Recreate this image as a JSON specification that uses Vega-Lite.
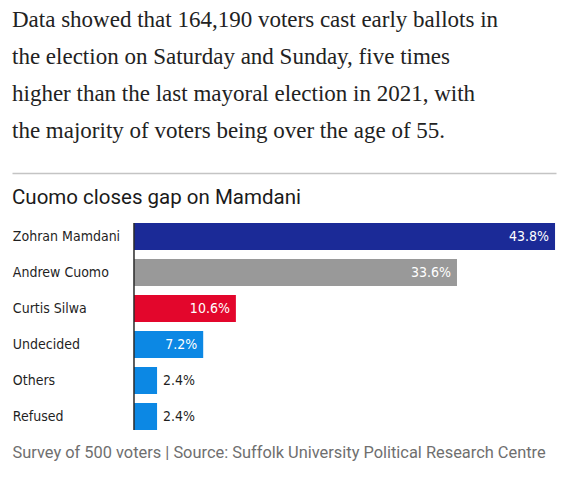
{
  "$schema": "https://vega.github.io/schema/vega-lite/v6.json",
  "background": "white",
  "padding": {"left": 12, "right": 12, "top": 0, "bottom": 0},
  "spacing": 14,
  "config": {"view": {"stroke": null}},
  "vconcat": [
    {
      "width": 544,
      "height": 147,
      "data": {
        "values": [
          {"line": 1, "text": "Data showed that 164,190 voters cast early ballots in"},
          {"line": 2, "text": "the election on Saturday and Sunday, five times"},
          {"line": 3, "text": "higher than the last mayoral election in 2021, with"},
          {"line": 4, "text": "the majority of voters being over the age of 55."}
        ]
      },
      "mark": {"type": "text", "align": "left", "baseline": "middle", "dy": 2, "font": "Liberation Serif", "fontSize": 23, "color": "#222222"},
      "encoding": {
        "y": {"field": "line", "type": "ordinal", "axis": null, "scale": {"type": "point", "padding": 0.5}},
        "x": {
          "datum": 0,
          "type": "quantitative",
          "scale": {"domain": [0, 1]},
          "axis": {"domainColor": "#c4c4c4", "domainWidth": 1.5, "ticks": false, "labels": false, "grid": false, "title": null, "offset": 26}
        },
        "text": {"field": "text"}
      }
    },
    {
      "width": 544,
      "height": 207,
      "title": {
        "text": "Cuomo closes gap on Mamdani",
        "anchor": "start",
        "font": "Roboto",
        "fontSize": 20.5,
        "fontWeight": "normal",
        "color": "#1a1a1a",
        "baseline": "alphabetic",
        "offset": -2
      },
      "data": {
        "values": [
          {"name": "Zohran Mamdani", "pct": 43.8},
          {"name": "Andrew Cuomo", "pct": 33.6},
          {"name": "Curtis Silwa", "pct": 10.6},
          {"name": "Undecided", "pct": 7.2},
          {"name": "Others", "pct": 2.4},
          {"name": "Refused", "pct": 2.4}
        ]
      },
      "transform": [{"calculate": "format(datum.pct, '.1f') + '%'", "as": "label"}],
      "layer": [
        {
          "mark": {"type": "bar"},
          "encoding": {
            "y": {"field": "name", "type": "nominal", "sort": null, "axis": null, "scale": {"paddingInner": 0.25, "paddingOuter": 0}},
            "x": {
              "field": "pct",
              "type": "quantitative",
              "scale": {"domain": [-12.69, 43.9], "nice": false, "zero": false},
              "axis": {
                "domain": false,
                "ticks": false,
                "labels": false,
                "grid": false,
                "title": "Survey of 500 voters | Source: Suffolk University Political Research Centre",
                "titleAnchor": "start",
                "titleAlign": "left",
                "titleBaseline": "alphabetic",
                "titlePadding": 27,
                "titleFont": "Roboto",
                "titleFontSize": 16.4,
                "titleFontWeight": "normal",
                "titleColor": "#6f6f6f"
              }
            },
            "color": {
              "field": "name",
              "type": "nominal",
              "legend": null,
              "scale": {
                "domain": ["Zohran Mamdani", "Andrew Cuomo", "Curtis Silwa", "Undecided", "Others", "Refused"],
                "range": ["#1b2a97", "#999999", "#e3062c", "#0c88e4", "#0c88e4", "#0c88e4"]
              }
            }
          }
        },
        {
          "data": {"values": [{}]},
          "mark": {"type": "rule", "color": "#2a2a2a", "strokeWidth": 1.5},
          "encoding": {"x": {"datum": 0, "type": "quantitative"}}
        },
        {
          "mark": {"type": "text", "align": "left", "baseline": "middle", "font": "DejaVu Sans Condensed, Roboto", "fontSize": 14, "color": "#1f1f1f"},
          "encoding": {
            "y": {"field": "name", "type": "nominal", "sort": null},
            "x": {"datum": -12.6, "type": "quantitative"},
            "text": {"field": "name"}
          }
        },
        {
          "transform": [{"filter": "datum.pct > 5"}],
          "mark": {"type": "text", "align": "right", "baseline": "middle", "dx": -6, "font": "DejaVu Sans Condensed, Roboto", "fontSize": 14, "color": "white"},
          "encoding": {
            "y": {"field": "name", "type": "nominal", "sort": null},
            "x": {"field": "pct", "type": "quantitative"},
            "text": {"field": "label"}
          }
        },
        {
          "transform": [{"filter": "datum.pct <= 5"}],
          "mark": {"type": "text", "align": "left", "baseline": "middle", "dx": 6, "font": "DejaVu Sans Condensed, Roboto", "fontSize": 14, "color": "#1f1f1f"},
          "encoding": {
            "y": {"field": "name", "type": "nominal", "sort": null},
            "x": {"field": "pct", "type": "quantitative"},
            "text": {"field": "label"}
          }
        }
      ]
    }
  ]
}
